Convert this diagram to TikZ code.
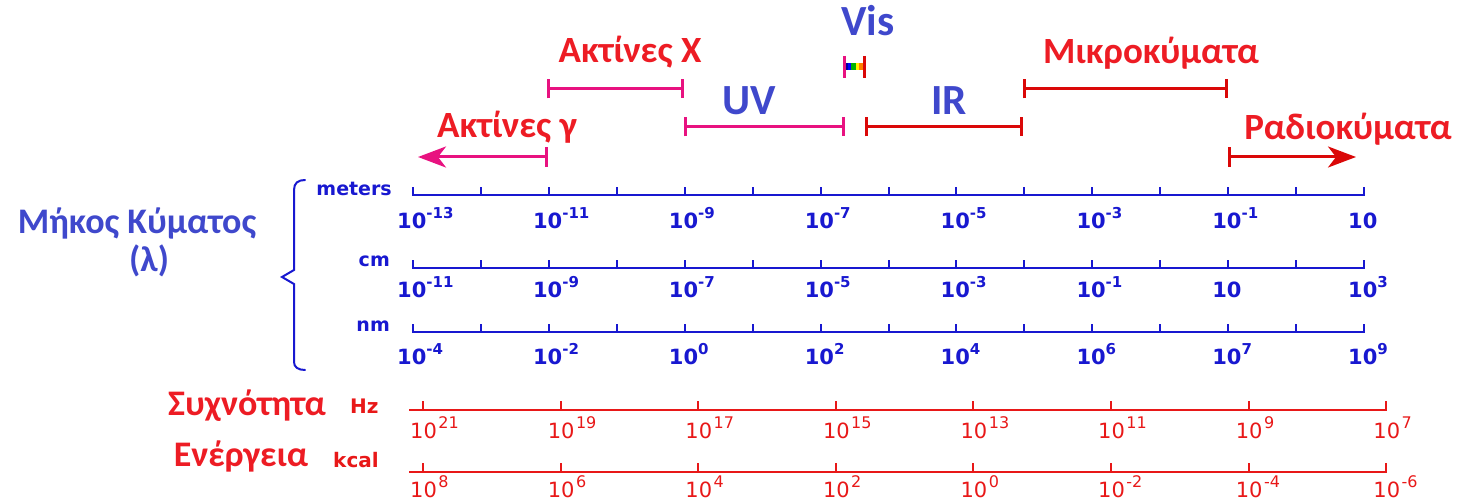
\documentclass[tikz,border=0pt]{standalone}
\usepackage{fontspec}
\setmainfont{Carlito}
\newfontfamily\dejavu{DejaVu Sans}
\usetikzlibrary{arrows.meta}

\definecolor{axblue}{RGB}{24,24,208}
\definecolor{axred}{RGB}{232,24,24}
\definecolor{lblue}{RGB}{63,72,204}
\definecolor{lred}{RGB}{237,28,36}
\definecolor{bpink}{RGB}{232,18,128}
\definecolor{bred}{RGB}{218,8,8}

% powers of ten: bold blue for wavelength, plain red for frequency/energy
\newcommand\bpow[1]{10\raisebox{10pt}{\fontsize{15}{15}\selectfont #1}}
\newcommand\rpow[1]{10\kern1.5pt\raisebox{10pt}{\fontsize{16}{16}\selectfont #1}}

\tikzset{
  bandlbl/.style={inner sep=0pt, anchor=base, font=\bfseries\fontsize{37}{37}\selectfont, text=lred},
  regionlbl/.style={inner sep=0pt, anchor=base, font=\bfseries\fontsize{43}{43}\selectfont, text=lblue},
  qtylbl/.style={inner sep=0pt, anchor=base, font=\bfseries\fontsize{36}{36}\selectfont},
  unitlbl/.style={inner sep=0pt, font=\dejavu\bfseries\fontsize{19}{19}\selectfont},
  bluetick/.style={inner sep=0pt, anchor=base west, text=axblue, font=\dejavu\bfseries\fontsize{21}{21}\selectfont},
  redtick/.style={inner sep=0pt, anchor=base west, text=axred, font=\dejavu\fontsize{21}{21}\selectfont},
  bluerule/.style={draw=axblue, line width=2pt},
  redrule/.style={draw=axred, line width=2pt},
  bandbar/.style={line width=3pt, {Bar[width=19pt,line width=3pt]}-{Bar[width=19pt,line width=3pt]}},
  bandarrow/.style={line width=3pt, {Bar[width=19pt,line width=3pt]}-{Stealth[length=28pt,width=21pt,inset=8pt]}},
}

\begin{document}
\begin{tikzpicture}[x=1pt,y=-1pt]
\useasboundingbox (0,0) rectangle (1459,500);

% ---------- spectral regions ----------
\coordinate (gR) at (548,157);  \coordinate (gL) at (418,157);
\coordinate (xL) at (547,89);   \coordinate (xR) at (684,89);
\coordinate (uL) at (684,127);  \coordinate (uR) at (845,127);
\coordinate (iL) at (865,127);  \coordinate (iR) at (1023,127);
\coordinate (mL) at (1023,89);  \coordinate (mR) at (1228,89);
\coordinate (rL) at (1228,157); \coordinate (rR) at (1356,157);

\draw[bandarrow, draw=bpink, fill=bpink] (gR) -- (gL);
\draw[bandbar, draw=bpink] (xL) -- (xR);
\draw[bandbar, draw=bpink] (uL) -- (uR);
\draw[bandbar, draw=bred] (iL) -- (iR);
\draw[bandbar, draw=bred] (mL) -- (mR);
\draw[bandarrow, draw=bred, fill=bred] (rL) -- (rR);

% visible band with its rainbow
\fill[blue!60!black] (845,63.5) rectangle (848,70.5);
\fill[blue]          (848,63.5) rectangle (851,70.5);
\fill[green!70!black](851,63.5) rectangle (856,70.5);
\fill[yellow]        (856,63.5) rectangle (859,70.5);
\fill[orange]        (859,63.5) rectangle (863,70.5);
\draw[bpink, line width=3pt] (844,56) -- (844,78);
\draw[bred, line width=3pt] (864.5,56) -- (864.5,78);

\node[bandlbl]   (gamma) at (507,138)  {Ακτίνες γ};
\node[bandlbl]   (xray)  at (630,63)   {Ακτίνες X};
\node[regionlbl] (uv)    at (749,115)  {UV};
\node[regionlbl] (vis)   at (868,36)   {Vis};
\node[regionlbl] (ir)    at (949,115)  {IR};
\node[bandlbl]   (micro) at (1151,64)  {Μικροκύματα};
\node[bandlbl]   (radio) at (1348,140) {Ραδιοκύματα};

% ---------- wavelength scales ----------
\foreach \yy in {195,268,332}{
  \draw[bluerule] (413,\yy-8) -- (413,\yy) -- (1364,\yy) -- (1364,\yy-8);
  \foreach \i in {1,...,13}
    \draw[bluerule] (413+67.93*\i,\yy-8) -- (413+67.93*\i,\yy);
}
\node[unitlbl, anchor=base east, text=axblue] (meters) at (392,195) {meters};
\node[unitlbl, anchor=base east, text=axblue] (cm)     at (390,266) {cm};
\node[unitlbl, anchor=base east, text=axblue] (nm)     at (390,331) {nm};

\foreach \i/\e in {0/-13,2/-11,4/-9,6/-7,8/-5,10/-3,12/-1,14/{}}
  \node[bluetick] at (397+67.93*\i,228) {\bpow{\e}};
\foreach \i/\e in {0/-11,2/-9,4/-7,6/-5,8/-3,10/-1,12/{},14/3}
  \node[bluetick] at (397+67.93*\i,297) {\bpow{\e}};
\foreach \i/\e in {0/-4,2/-2,4/0,6/2,8/4,10/6,12/7,14/9}
  \node[bluetick] at (397+67.93*\i,364) {\bpow{\e}};

% brace grouping the three wavelength units
\draw[axblue, line width=2pt, line cap=round]
  (305,180) .. controls (298,180) and (294,183) .. (294,190)
  -- (294,270) -- (282,277) -- (294,284)
  -- (294,362) .. controls (294,367) and (298,370) .. (305,370);

\node[qtylbl, text=lblue] (lambda) at (137,233) {Μήκος Κύματος};
\node[qtylbl, text=lblue] (lsym)   at (149,271) {(λ)};

% ---------- frequency and energy scales ----------
\foreach \yy in {410,472}{
  \draw[redrule] (409,\yy) -- (1386,\yy) -- (1386,\yy-9);
  \foreach \i in {0,...,6}
    \draw[redrule] (423+137.6*\i,\yy-9) -- (423+137.6*\i,\yy);
}
\foreach \i/\e in {0/21,1/19,2/17,3/15,4/13,5/11,6/9,7/7}
  \node[redtick] at (410+137.6*\i,438) {\rpow{\e}};
\foreach \i/\e in {0/8,1/6,2/4,3/2,4/0,5/-2,6/-4,7/-6}
  \node[redtick] at (410+137.6*\i,497) {\rpow{\e}};

\node[qtylbl, text=lred] (freq)   at (247,415) {Συχνότητα};
\node[qtylbl, text=lred] (energy) at (241,466) {Ενέργεια};
\node[unitlbl, anchor=base west, text=axred, font=\dejavu\bfseries\fontsize{20}{20}\selectfont] (hz)   at (350,413) {Hz};
\node[unitlbl, anchor=base west, text=axred, font=\dejavu\bfseries\fontsize{20}{20}\selectfont] (kcal) at (333,467) {kcal};
\end{tikzpicture}
\end{document}
